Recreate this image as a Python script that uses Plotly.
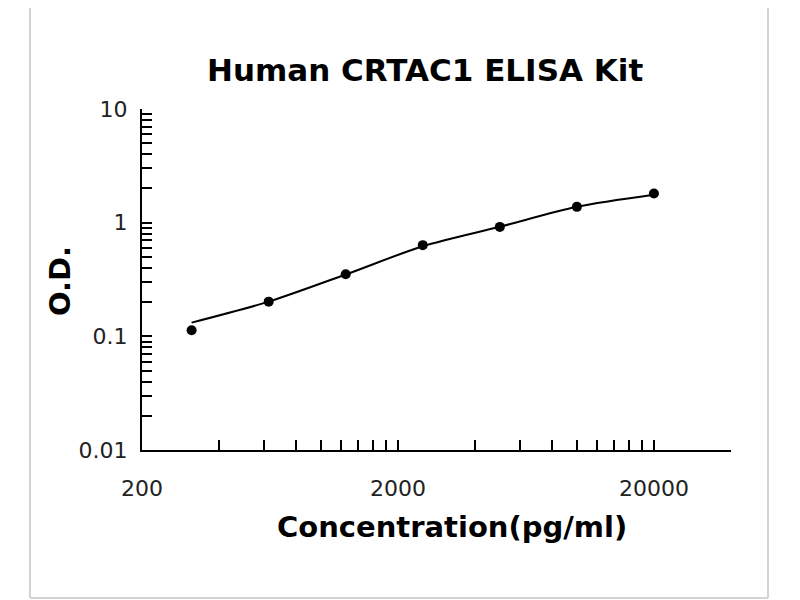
import plotly.graph_objects as go

# standard curve data
conc = [312.5, 625, 1250, 2500, 5000, 10000, 20000]
od = [0.113, 0.202, 0.352, 0.634, 0.918, 1.378, 1.808]
od_fit = [0.132, 0.202, 0.350, 0.620, 0.920, 1.380, 1.760]

# axis ticks
x_major = [200, 2000, 20000]
x_minor = [400, 600, 800, 1000, 1200, 1400, 1600, 1800,
           4000, 6000, 8000, 10000, 12000, 14000, 16000, 18000, 40000]
y_major = [0.01, 0.1, 1, 10]
y_major_text = ['0.01', '0.1', '1', '10']
y_minor = [m * d for d in [0.01, 0.1, 1] for m in range(2, 10)]

x_ticks = x_major + x_minor
x_text = [str(v) for v in x_major] + [''] * len(x_minor)
y_ticks = y_major + y_minor
y_text = y_major_text + [''] * len(y_minor)

fig = go.Figure()

# fitted curve
fig.add_trace(go.Scatter(
    x=conc, y=od_fit,
    mode='lines',
    line=dict(color='black', width=2, shape='spline', smoothing=0.8),
    hoverinfo='skip'
))

# measured points
fig.add_trace(go.Scatter(
    x=conc, y=od,
    mode='markers',
    marker=dict(color='black', size=10)
))

axis_common = dict(
    showgrid=False, zeroline=False,
    showline=True, linecolor='black', linewidth=2,
    ticks='inside', ticklen=10, tickwidth=2, tickcolor='black',
    tickmode='array',
    tickfont=dict(family='DejaVu Sans', size=22, color='#222222'),
)

# page has an 8px body margin, so margins are shifted by that
PX0, PY0, PW, PH = 142, 450, 589, 341  # plot area in screen pixels (left, bottom, width, height)


def px(x):
    return (x - PX0) / PW


def py(y):
    return (PY0 - y) / PH


fig.update_layout(
    width=800, height=600,
    paper_bgcolor='white', plot_bgcolor='white',
    showlegend=False,
    margin=dict(l=134, r=77, t=101, b=158),
    xaxis=dict(type='log', range=[2.30103, 4.60206],
               tickvals=x_ticks, ticktext=x_text,
               ticklabelstandoff=18, **axis_common),
    yaxis=dict(type='log', range=[-2, 1],
               tickvals=y_ticks, ticktext=y_text,
               ticklabelstandoff=8, **axis_common),
    annotations=[
        dict(text='<b>Human CRTAC1 ELISA Kit</b>', xref='paper', yref='paper',
             x=px(425), y=py(70), xanchor='center', yanchor='middle', showarrow=False,
             font=dict(family='DejaVu Sans', size=31, color='black')),
        dict(text='<b>Concentration(pg/ml)</b>', xref='paper', yref='paper',
             x=px(452), y=py(527), xanchor='center', yanchor='middle', showarrow=False,
             font=dict(family='DejaVu Sans', size=29, color='black')),
        dict(text='<b>O.D.</b>', xref='paper', yref='paper',
             x=px(60), y=py(281), xanchor='center', yanchor='middle',
             showarrow=False, textangle=-90,
             font=dict(family='DejaVu Sans', size=29, color='black')),
    ],
    shapes=[
        dict(type='line', xref='paper', yref='paper',
             x0=px(30), x1=px(30), y0=py(0), y1=py(598),
             line=dict(color='#d4d4d4', width=2)),
        dict(type='line', xref='paper', yref='paper',
             x0=px(768), x1=px(768), y0=py(0), y1=py(598),
             line=dict(color='#d4d4d4', width=2)),
        dict(type='line', xref='paper', yref='paper',
             x0=px(30), x1=px(768), y0=py(598), y1=py(598),
             line=dict(color='#d4d4d4', width=2)),
    ],
)

fig.write_html("out.html")
